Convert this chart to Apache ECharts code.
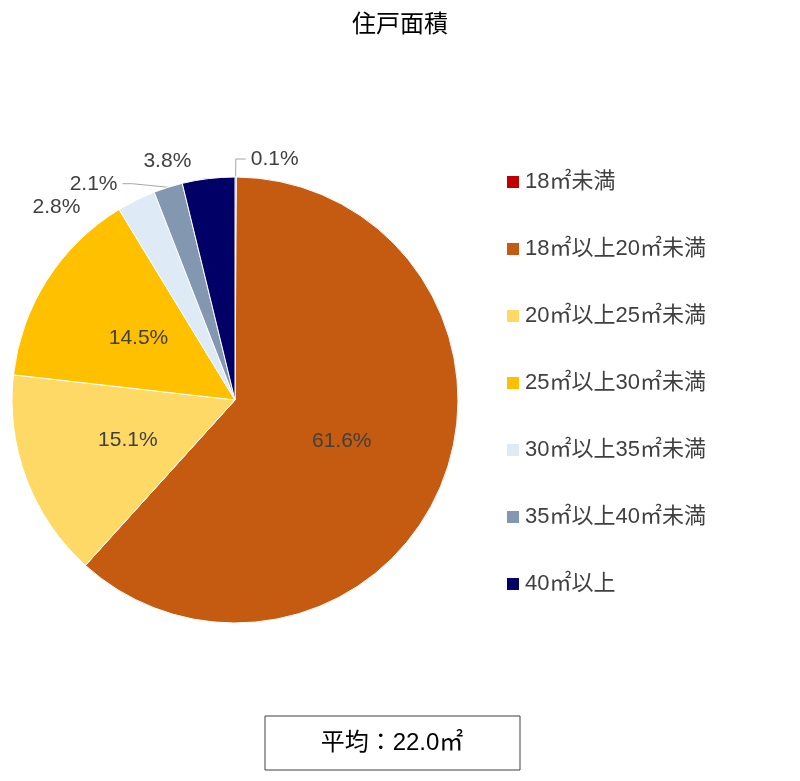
<!DOCTYPE html>
<html><head><meta charset="utf-8">
<script src="https://cdn.jsdelivr.net/npm/echarts@6/dist/echarts.min.js"></script>
<style>html,body{margin:0;padding:0;background:#fff}#c{width:800px;height:781px}</style>
</head><body><div id="c"></div>
<script>
const categories = ['18㎡未満','18㎡以上20㎡未満','20㎡以上25㎡未満','25㎡以上30㎡未満','30㎡以上35㎡未満','35㎡以上40㎡未満','40㎡以上'];
const values = [0.1, 61.6, 15.1, 14.5, 2.8, 2.1, 3.8];
const colors = ['#C00000','#C55A11','#FFD966','#FFC000','#DEEBF7','#8497B0','#000066'];
const outside = [true, false, false, false, true, true, true];
const showLine = [true, false, false, false, false, true, false];
const chart = echarts.init(document.getElementById('c'));
const font = '"Liberation Sans","Noto Sans CJK JP",sans-serif';
chart.setOption({
  animation:false,
  textStyle:{fontFamily:font},
  title:{text:'住戸面積',left:'center',top:8,textStyle:{fontSize:24,fontWeight:'normal',color:'#000',fontFamily:font}},
  color:colors,
  legend:{orient:'vertical',left:500,top:166,itemWidth:14,itemHeight:14,itemGap:45,icon:'rect',
    textStyle:{fontSize:22,color:'#404040',fontFamily:font},data:categories},
  series:[{type:'pie',center:[235,400],radius:[0,223],startAngle:90,clockwise:true,
    data:categories.map((n,i)=>({name:n,value:values[i],
      label: outside[i] ? {position:'outside'} : {position:'inside'},
      labelLine:{show:showLine[i],length:18,length2:10,lineStyle:{color:'#a6a6a6'}}})),
    label:{formatter:p=>p.value.toFixed(1)+'%',fontSize:21,color:'#404040',fontFamily:font},
    itemStyle:{borderColor:'#fff',borderWidth:1}
  }],
  graphic:[{type:'rect',shape:{x:265,y:716,width:255,height:54},style:{fill:'#fff',stroke:'#404040',lineWidth:1}},
    {type:'text',x:392,y:743,style:{text:'平均：22.0㎡',fontSize:24,fill:'#000',align:'center',verticalAlign:'middle',fontFamily:font}}]
});
</script></body></html>
